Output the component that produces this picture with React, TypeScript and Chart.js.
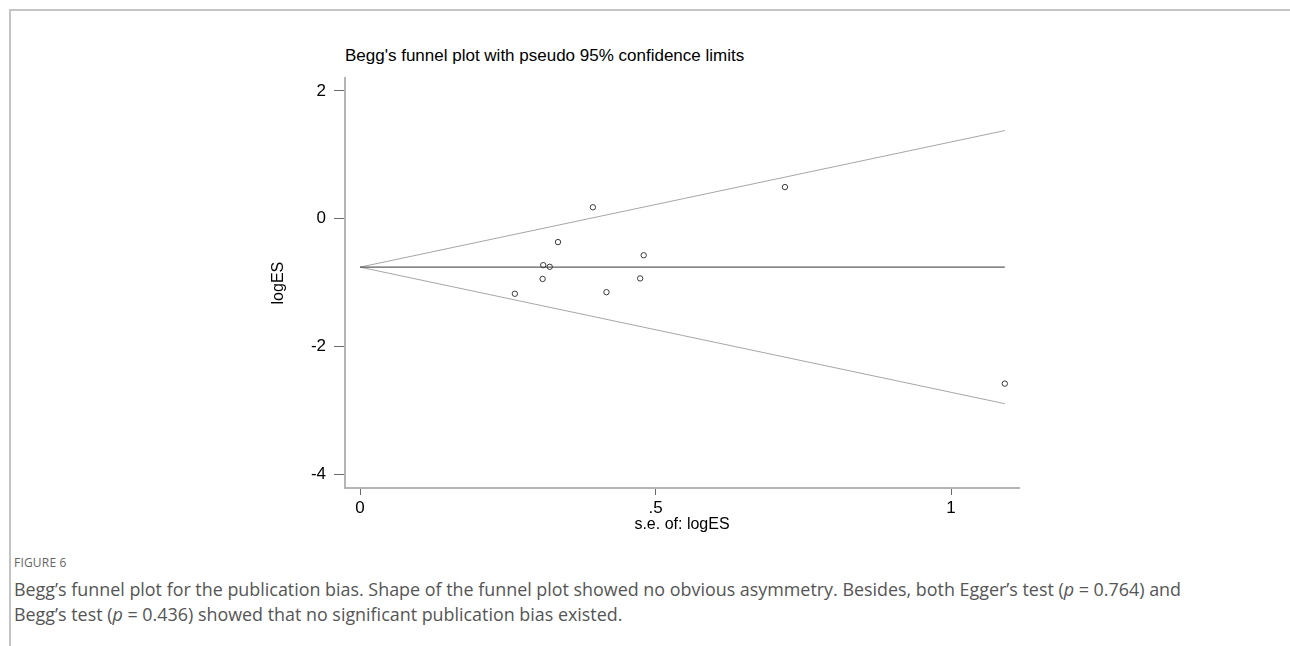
import React, { useEffect, useRef } from "react";
import { Chart, registerables } from "chart.js";

Chart.register(...registerables);

// Study-level values
const seValues = [0.394, 0.335, 0.48, 0.31, 0.321, 0.309, 0.474, 0.417, 0.262, 0.719, 1.091];
const logESValues = [0.179, -0.366, -0.572, -0.727, -0.753, -0.943, -0.934, -1.15, -1.175, 0.495, -2.582];

// Pseudo 95% confidence limits and pooled estimate line (end points)
const funnelSE = [0, 1.091];
const upperLimit = [-0.758, 1.38];
const lowerLimit = [-0.758, -2.896];
const pooledLine = [-0.758, -0.758];

// Axis ticks
const xTicks = [0, 0.5, 1];
const xTickLabels = ["0", ".5", "1"];
const yTicks = [-4, -2, 0, 2];
const yTickLabels = ["-4", "-2", "0", "2"];

const chartTitle = "Begg's funnel plot with pseudo 95% confidence limits";
const xTitle = "s.e. of: logES";
const yTitle = "logES";

const FONT = "'Liberation Sans', Arial, sans-serif";

export default function App() {
  const canvasRef = useRef<HTMLCanvasElement | null>(null);

  useEffect(() => {
    const canvas = canvasRef.current;
    if (!canvas) return;
    const pts = seValues.map((s, i) => ({ x: s, y: logESValues[i] }));
    const toLine = (ys: number[]) => funnelSE.map((s, i) => ({ x: s, y: ys[i] }));

    const chart = new Chart(canvas, {
      type: "scatter",
      data: {
        datasets: [
          {
            data: toLine(upperLimit),
            showLine: true,
            borderColor: "#a6a6a6",
            borderWidth: 1,
            pointRadius: 0,
            order: 3,
          },
          {
            data: toLine(lowerLimit),
            showLine: true,
            borderColor: "#a6a6a6",
            borderWidth: 1,
            pointRadius: 0,
            order: 3,
          },
          {
            data: toLine(pooledLine),
            showLine: true,
            borderColor: "#5e5e5e",
            borderWidth: 1.2,
            pointRadius: 0,
            order: 2,
          },
          {
            data: pts,
            pointStyle: "circle",
            pointRadius: 2.7,
            borderWidth: 1,
            borderColor: "#3a3a3a",
            backgroundColor: "rgba(255,255,255,0)",
            order: 1,
          },
        ],
      },
      options: {
        animation: false,
        responsive: false,
        maintainAspectRatio: false,
        layout: { padding: { top: 13, right: 31, bottom: 0, left: 0 } },
        plugins: {
          legend: { display: false },
          tooltip: { enabled: false },
          title: { display: false },
        },
        scales: {
          x: {
            type: "linear",
            min: -0.0254,
            max: 1.115,
            afterFit: (s: any) => {
              s.height = 52;
            },
            afterBuildTicks: (s: any) => {
              s.ticks = xTicks.map((v) => ({ value: v }));
            },
            ticks: {
              autoSkip: false,
              maxRotation: 0,
              padding: 3,
              color: "#000",
              font: { family: FONT, size: 17 },
              callback: (v: any) => {
                const i = xTicks.indexOf(Number(v));
                return i >= 0 ? xTickLabels[i] : "";
              },
            },
            grid: {
              display: true,
              drawOnChartArea: false,
              drawTicks: true,
              tickLength: 7,
              color: "#6a6a6a",
              lineWidth: 1,
            },
            border: { display: true, color: "#b4b4b4", width: 2 },
            title: {
              display: true,
              text: xTitle,
              color: "#000",
              font: { family: FONT, size: 16 },
              padding: { top: 0, bottom: 6 },
            },
          },
          y: {
            type: "linear",
            min: -4.216,
            max: 2.2,
            afterFit: (s: any) => {
              s.width = 95;
            },
            afterBuildTicks: (s: any) => {
              s.ticks = yTicks.map((v) => ({ value: v }));
            },
            ticks: {
              autoSkip: false,
              padding: 8,
              color: "#000",
              font: { family: FONT, size: 17 },
              callback: (v: any) => {
                const i = yTicks.indexOf(Number(v));
                return i >= 0 ? yTickLabels[i] : "";
              },
            },
            grid: {
              display: true,
              drawOnChartArea: false,
              drawTicks: true,
              tickLength: 11,
              color: "#6a6a6a",
              lineWidth: 1,
            },
            border: { display: true, color: "#b4b4b4", width: 2 },
            title: {
              display: true,
              text: yTitle,
              color: "#000",
              font: { family: FONT, size: 16 },
              padding: { top: 19, bottom: 0 },
            },
          },
        },
      },
    });
    return () => chart.destroy();
  }, []);

  return (
    <div
      style={{
        position: "absolute",
        left: 0,
        top: 0,
        width: 1290,
        height: 646,
        background: "#fff",
        overflow: "hidden",
      }}
    >
      <div
        style={{
          position: "absolute",
          left: 9,
          top: 9,
          width: 1281,
          height: 637,
          borderTop: "2px solid #c4c4c4",
          borderLeft: "2px solid #c4c4c4",
          boxSizing: "border-box",
        }}
      />
      <div
        style={{
          position: "absolute",
          left: 345,
          top: 46,
          fontFamily: FONT,
          fontSize: 17,
          lineHeight: "20px",
          color: "#000",
          whiteSpace: "nowrap",
        }}
      >
        {chartTitle}
      </div>
      <canvas
        ref={canvasRef}
        width={800}
        height={480}
        style={{ position: "absolute", left: 250, top: 60, width: 800, height: 480 }}
      />
      <div
        style={{
          position: "absolute",
          left: 14,
          top: 554,
          fontFamily: "'Open Sans', 'Noto Sans', sans-serif",
          fontSize: 12,
          lineHeight: "18px",
          color: "#666",
          letterSpacing: 0.2,
        }}
      >
        FIGURE 6
      </div>
      <div
        style={{
          position: "absolute",
          left: 14,
          top: 577,
          fontFamily: "'Open Sans', 'Noto Sans', sans-serif",
          fontSize: 17.9,
          lineHeight: "25px",
          color: "#555",
          whiteSpace: "nowrap",
        }}
      >
        Begg’s funnel plot for the publication bias. Shape of the funnel plot showed no obvious asymmetry. Besides, both Egger’s test (<i>p</i> = 0.764) and
        <br />
        Begg’s test (<i>p</i> = 0.436) showed that no significant publication bias existed.
      </div>
    </div>
  );
}
